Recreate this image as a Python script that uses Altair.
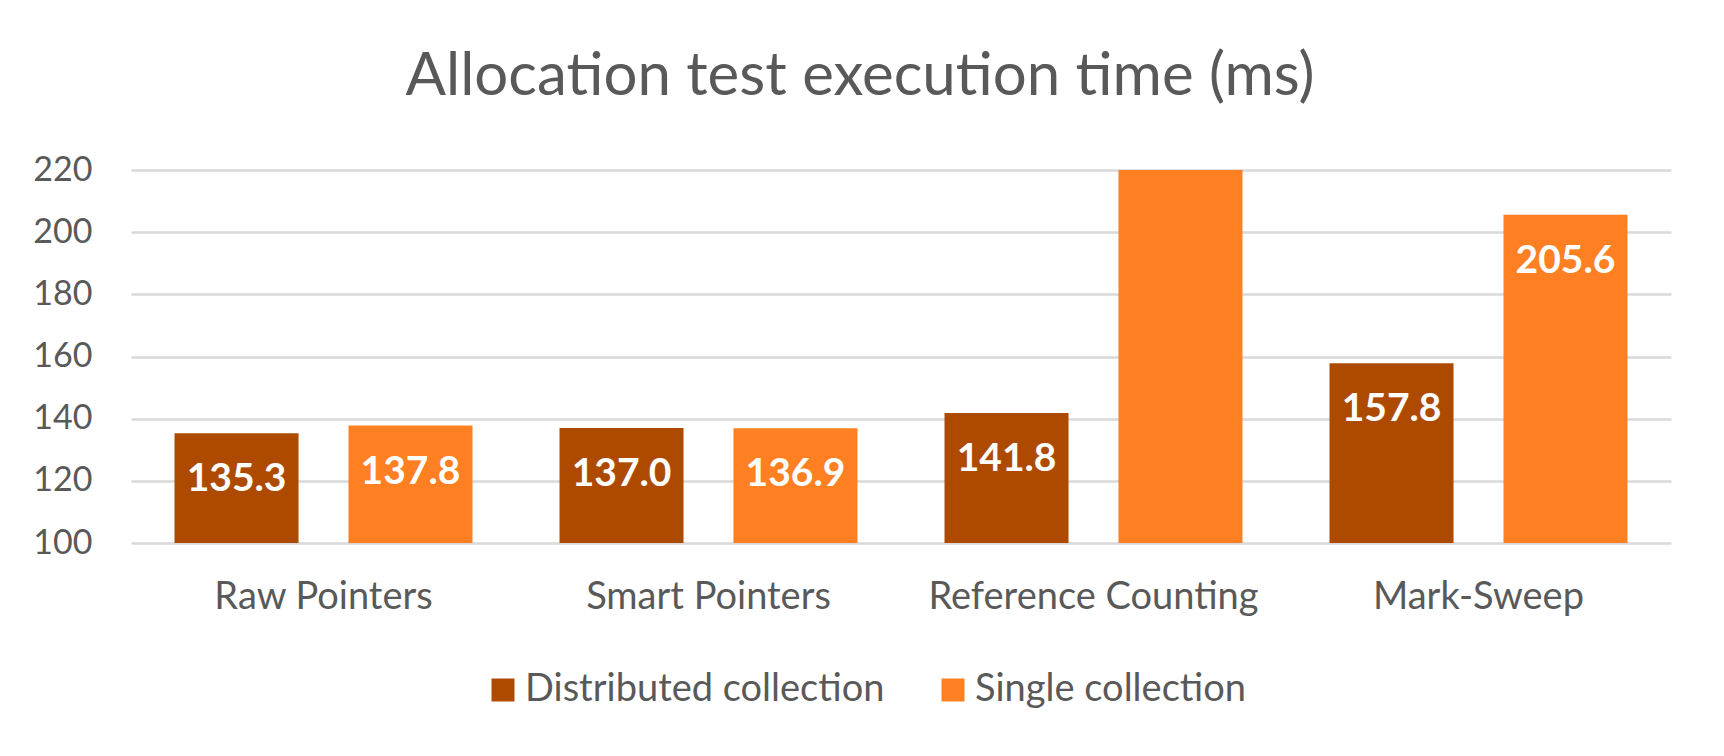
import altair as alt
import pandas as pd

categories = ["Raw Pointers", "Smart Pointers", "Reference Counting", "Mark-Sweep"]
series_names = ["Distributed collection", "Single collection"]
distributed = [135.3, 137.0, 141.8, 157.8]
single = [137.8, 136.9, 260.0, 205.6]
colors = ["#AE4A00", "#FF8022"]
y_ticks = [100, 120, 140, 160, 180, 200, 220]

rows = []
for c, d, s in zip(categories, distributed, single):
    rows.append({"category": c, "series": series_names[0], "value": d})
    rows.append({"category": c, "series": series_names[1], "value": s})
df = pd.DataFrame(rows)

FONT = "Lato"
GRAY = "#595959"

base = alt.Chart(df).encode(
    x=alt.X(
        "category:N",
        sort=categories,
        scale=alt.Scale(paddingInner=0.226, paddingOuter=0.113),
        axis=alt.Axis(
            title=None, labelAngle=0, ticks=False, domain=False, grid=False,
            labelFont=FONT, labelFontSize=38, labelColor=GRAY,
            labelPadding=65, labelBaseline="alphabetic", labelLimit=0,
        ),
    ),
    xOffset=alt.XOffset(
        "series:N", sort=series_names,
        scale=alt.Scale(paddingInner=0.287, paddingOuter=0),
    ),
    y=alt.Y(
        "value:Q",
        scale=alt.Scale(domain=[100, 220], nice=False, zero=False),
        axis=alt.Axis(
            title=None, values=y_ticks, ticks=False, domain=False,
            grid=True, gridColor="#D9D9D9", gridWidth=2.5,
            labelFont=FONT, labelFontSize=34, labelColor=GRAY,
            labelPadding=39,
        ),
    ),
)

bars = base.mark_bar(clip=True).encode(
    color=alt.Color(
        "series:N",
        sort=series_names,
        scale=alt.Scale(domain=series_names, range=colors),
        legend=alt.Legend(
            title=None, orient="none", legendX=353, legendY=501,
            direction="horizontal", symbolType="square", symbolSize=529,
            symbolStrokeWidth=0, symbolOpacity=1,
            labelFont=FONT, labelFontSize=38, labelColor=GRAY,
            labelOffset=3, columnPadding=49, labelLimit=0,
        ),
    )
)

labels = base.transform_filter("datum.value <= 220").mark_text(
    dy=46, color="white", font=FONT, fontSize=39, fontWeight="bold",
    baseline="middle",
).encode(text=alt.Text("value:Q", format=".1f"))

chart = (
    alt.layer(bars, labels)
    .properties(
        width=1540,
        height=373,
        title=alt.TitleParams(
            "Allocation test execution time (ms)",
            font=FONT, fontSize=60, fontWeight="normal", color=GRAY,
            anchor="middle", dx=-41, dy=5, offset=3, baseline="alphabetic",
        ),
        autosize=alt.AutoSizeParams(type="none"),
        padding={"left": 123, "top": 162, "right": 45, "bottom": 205},
        background="white",
    )
    .configure_view(stroke=None)
)

chart.save("out.html", embed_options={"renderer": "svg", "actions": False})
